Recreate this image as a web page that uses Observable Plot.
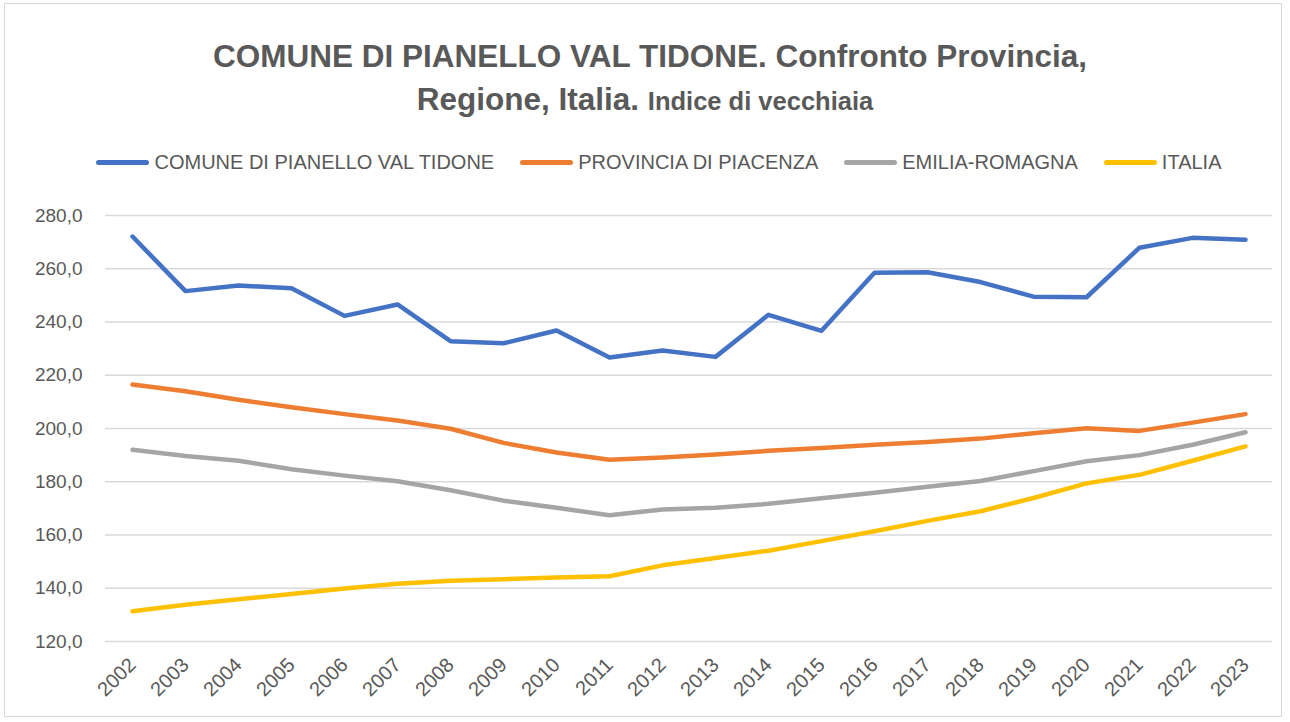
<!DOCTYPE html>
<html>
<head>
<meta charset="utf-8">
<script src="https://cdn.jsdelivr.net/npm/d3@7"></script>
<script src="https://cdn.jsdelivr.net/npm/@observablehq/plot@0.6"></script>
<style>
  html, body { margin: 0; padding: 0; background: #fff; }
  body { width: 1290px; height: 722px; position: relative; overflow: hidden; font-family: "Liberation Sans", Arial, sans-serif; }
  #frame { position: absolute; left: 4px; top: 3px; width: 1278px; height: 714px; border: 1px solid #D9D9D9; box-sizing: border-box; }
  #title { position: absolute; left: 0; width: 1290px; top: 35px; text-align: center; color: #595959; font-weight: bold; font-size: 31.5px; line-height: 43px; }
  #title .l1 { position: relative; left: 5px; }
  #title .small { font-size: 25.5px; }
  #legend { position: absolute; left: 0; width: 1290px; top: 151px; padding-left: 28px; box-sizing: border-box; display: flex; justify-content: center; align-items: center; color: #595959; font-size: 20px; }
  .item { display: flex; align-items: center; margin: 0 13px; }
  .sw { width: 53px; height: 5px; border-radius: 3px; margin-right: 5px; }
  #chart { position: absolute; left: 0; top: 195px; }
</style>
</head>
<body>
<div id="frame"></div>
<div id="title"><span class="l1">COMUNE DI PIANELLO VAL TIDONE. Confronto Provincia,</span><br>Regione, Italia. <span class="small">Indice di vecchiaia</span></div>
<div id="legend"></div>
<div id="chart"></div>
<script>
const years = ["2002","2003","2004","2005","2006","2007","2008","2009","2010","2011","2012","2013","2014","2015","2016","2017","2018","2019","2020","2021","2022","2023"];
const seriesNames = ["COMUNE DI PIANELLO VAL TIDONE", "PROVINCIA DI PIACENZA", "EMILIA-ROMAGNA", "ITALIA"];
const seriesColors = ["#4472C4", "#ED7D31", "#A5A5A5", "#FFC000"];
const comune = [272.1, 251.6, 253.7, 252.7, 242.3, 246.6, 232.8, 232.0, 236.8, 226.7, 229.3, 226.9, 242.7, 236.7, 258.5, 258.7, 255.0, 249.5, 249.3, 267.9, 271.6, 270.9];
const provincia = [216.5, 214.0, 210.8, 208.0, 205.4, 203.0, 199.9, 194.6, 191.0, 188.3, 189.1, 190.2, 191.6, 192.7, 193.9, 194.9, 196.2, 198.2, 200.1, 199.1, 202.2, 205.4];
const emilia = [192.0, 189.7, 187.9, 184.7, 182.3, 180.2, 176.8, 172.9, 170.2, 167.4, 169.6, 170.2, 171.7, 173.8, 175.9, 178.1, 180.3, 184.0, 187.7, 190.0, 193.9, 198.6];
const italia = [131.4, 133.8, 135.9, 137.8, 139.9, 141.7, 142.8, 143.4, 144.0, 144.5, 148.6, 151.4, 154.1, 157.7, 161.4, 165.3, 168.9, 173.9, 179.4, 182.6, 187.9, 193.3];
const yTicks = [120, 140, 160, 180, 200, 220, 240, 260, 280];

const allSeries = [comune, provincia, emilia, italia];
const data = [];
allSeries.forEach((vals, si) => {
  vals.forEach((v, i) => data.push({ year: years[i], value: v, series: seriesNames[si] }));
});

const legend = document.getElementById("legend");
seriesNames.forEach((n, i) => {
  const it = document.createElement("div");
  it.className = "item";
  it.innerHTML = `<div class="sw" style="background:${seriesColors[i]}"></div><span>${n}</span>`;
  legend.appendChild(it);
});

const fmt = d => d.toFixed(1).replace(".", ",");

const chart = Plot.plot({
  width: 1290,
  height: 527,
  marginLeft: 105,
  marginRight: 18,
  marginTop: 20,
  marginBottom: 81,
  style: { fontFamily: "Liberation Sans, Arial, sans-serif", color: "#595959", background: "transparent" },
  x: { type: "point", domain: years, padding: 0.5 },
  y: { domain: [120, 280] },
  color: { domain: seriesNames, range: seriesColors },
  marks: [
    Plot.ruleY(yTicks, { stroke: "#D9D9D9", strokeWidth: 1.5 }),
    Plot.axisY({ ticks: yTicks, tickFormat: fmt, tickSize: 0, tickPadding: 23, fontSize: 19, label: null, fill: "#595959" }),
    Plot.axisX({ tickSize: 0, tickRotate: -45, tickPadding: 20, fontSize: 20, label: null, fill: "#595959" }),
    Plot.line(data, { x: "year", y: "value", z: "series", stroke: "series", strokeWidth: 4.5, strokeLinejoin: "round", strokeLinecap: "round" })
  ]
});
document.getElementById("chart").appendChild(chart);
</script>
</body>
</html>
